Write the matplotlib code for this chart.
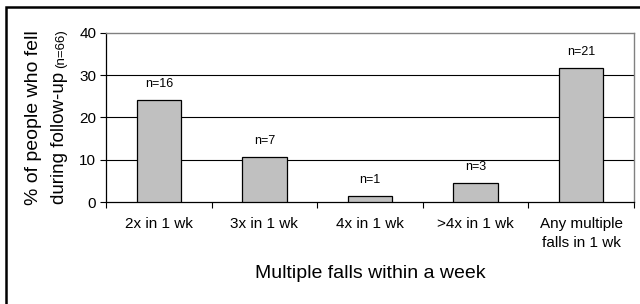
import matplotlib
matplotlib.use("Agg")
import matplotlib.pyplot as plt
from matplotlib.patches import Rectangle

categories = ["2x in 1 wk", "3x in 1 wk", "4x in 1 wk", ">4x in 1 wk", "Any multiple\nfalls in 1 wk"]
percent = [24.2, 10.6, 1.5, 4.5, 31.8]
counts = ["n=16", "n=7", "n=1", "n=3", "n=21"]
yticks = [0, 10, 20, 30, 40]

plt.rcParams['font.family'] = ['Liberation Sans', 'DejaVu Sans']

W, H = 640, 304
fig = plt.figure(figsize=(W/100, H/100), dpi=100)

# outer frame (right and bottom edges fall outside the image)
fig.patches.append(Rectangle((6/W, -0.1), 1.2, 1 - 7/H + 0.1, transform=fig.transFigure,
                             fill=False, edgecolor='black', linewidth=1.8))

left, right, top, bottom = 106, 634, 33, 202
ax = fig.add_axes([left/W, 1 - bottom/H, (right-left)/W, (bottom-top)/H])

x = list(range(len(categories)))
ax.bar(x, percent, width=0.42, color='#c0c0c0', edgecolor='black', linewidth=0.9, zorder=3)
for xi, v, c in zip(x, percent, counts):
    ax.annotate(c, (xi, v), xytext=(0, 7), textcoords='offset points',
                ha='center', va='bottom', fontsize=9, zorder=4)

ax.set_xlim(-0.5, len(categories) - 0.5)
ax.set_ylim(0, 40)
ax.set_yticks(yticks)
ax.set_yticklabels([str(t) for t in yticks], fontsize=11)
for t in yticks[1:-1]:
    ax.axhline(t, color='black', linewidth=0.8, zorder=1)

ax.set_xticks([i - 0.5 for i in range(len(categories) + 1)])
ax.set_xticklabels([])
ax.set_xticks(x, minor=True)
ax.set_xticklabels(categories, minor=True, fontsize=11, linespacing=1.45)
ax.tick_params(axis='x', which='minor', length=0, pad=11)
ax.tick_params(axis='x', which='major', direction='out', length=4, width=0.8)
ax.tick_params(axis='y', direction='out', length=4, width=0.8, pad=3)

for s in ['top', 'right']:
    ax.spines[s].set_color('#808080')
    ax.spines[s].set_linewidth(1.0)
for s in ['left', 'bottom']:
    ax.spines[s].set_color('black')
    ax.spines[s].set_linewidth(0.9)

# y label (two lines, second with smaller suffix)
fig.text(34/W, 1 - 118/H, "% of people who fell", rotation=90, ha='center', va='center', fontsize=14)

renderer = fig.canvas.get_renderer()
t_main = fig.text(60/W, 0, "during follow-up", rotation=90, ha='center', va='bottom', fontsize=13.5)
t_sub = fig.text(61/W, 0, "(n=66)", rotation=90, ha='center', va='bottom', fontsize=9.5)
h_main = t_main.get_window_extent(renderer).height
h_sub = t_sub.get_window_extent(renderer).height
gap = 4
total = h_main + gap + h_sub
center = 117
start = center + total / 2          # pixels from top (bottom of rotated text)
t_main.set_y(1 - start / H)
t_sub.set_y(1 - (start - h_main - gap) / H)

fig.text((left + right)/2/W, 1 - 273/H, "Multiple falls within a week", ha='center', va='center', fontsize=14)

fig.savefig("out.png", dpi=100)
